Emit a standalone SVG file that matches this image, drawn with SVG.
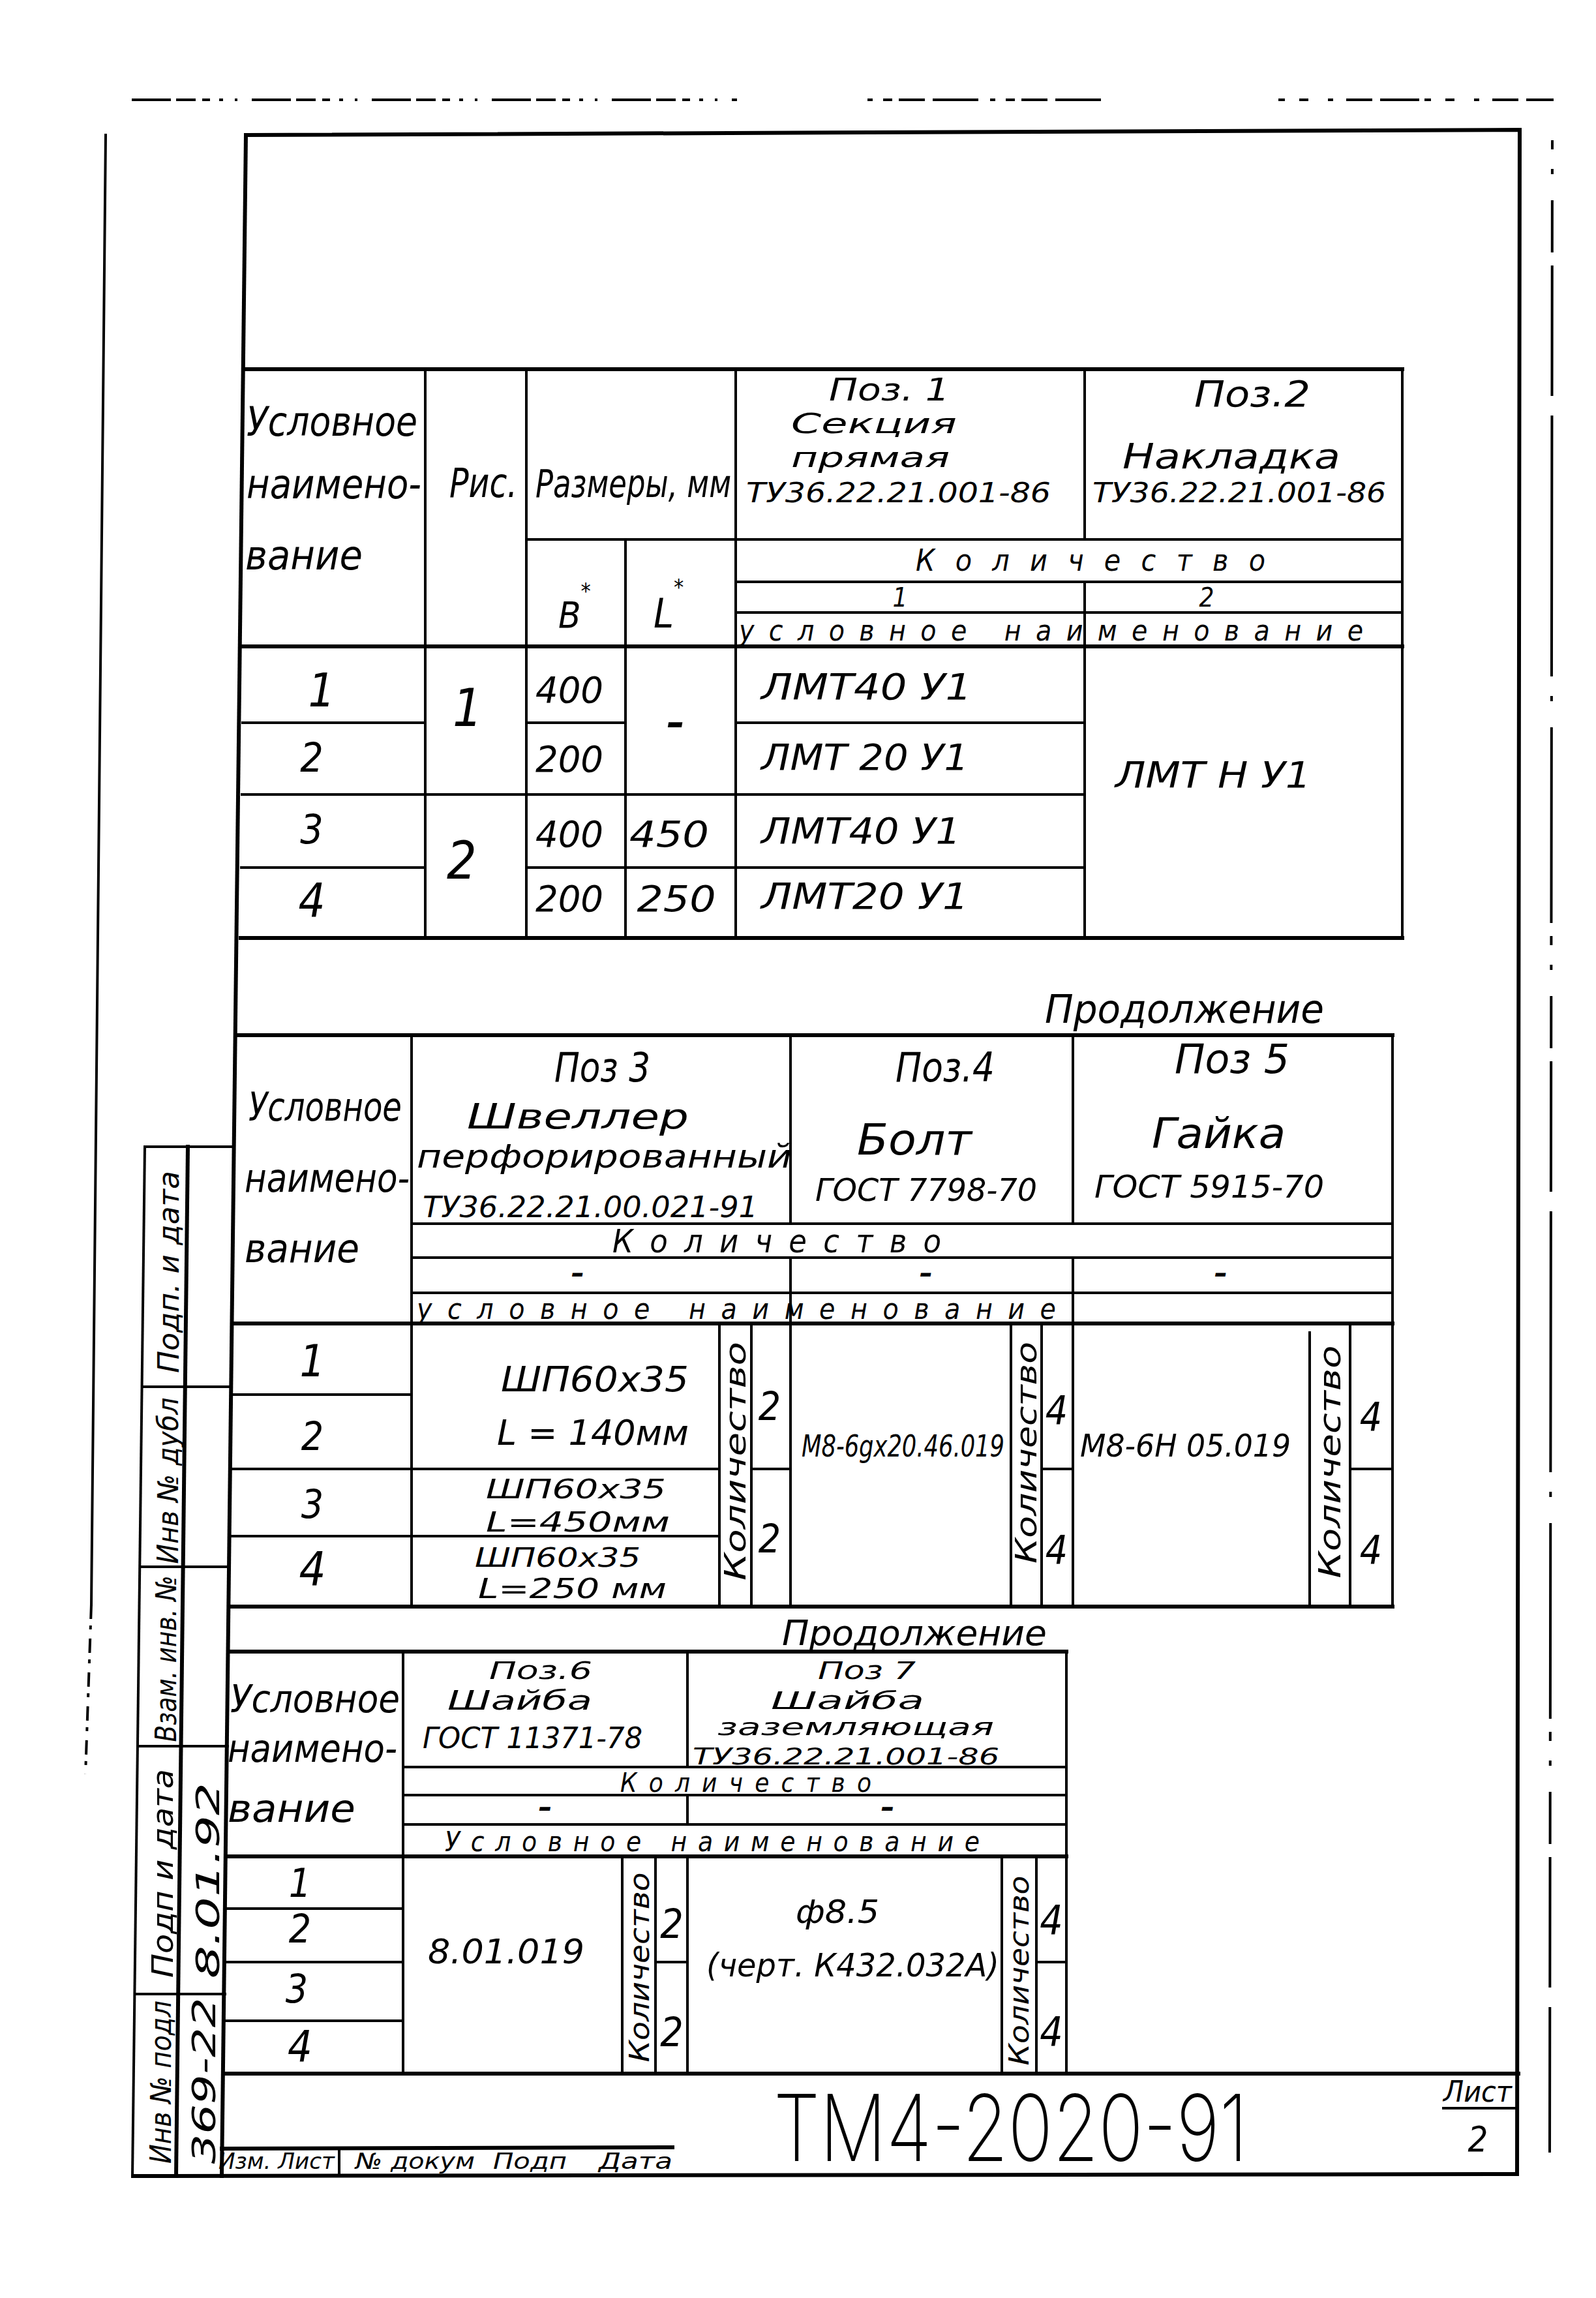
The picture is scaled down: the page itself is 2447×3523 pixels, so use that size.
<svg xmlns="http://www.w3.org/2000/svg" width="2447" height="3523" viewBox="0 0 2447 3523">
<style>
.ln{stroke:#000;stroke-width:4;fill:none;stroke-linecap:square}
.tk{stroke-width:6}
.ds{stroke:#000;stroke-width:4;fill:none}
.tx{font-family:"DejaVu Sans Condensed","DejaVu Sans",sans-serif;font-style:oblique;fill:#000}
.up{font-family:Inter,Lato,"DejaVu Sans",sans-serif;font-weight:200;fill:#000}
</style>
<rect width="2447" height="3523" fill="#fff"/>

<g id="frame">
<path class="ds" stroke-dasharray="60 8 30 10 12 14 6 18 4 22" d="M202,153 L1130,153"/>
<path class="ds" stroke-dasharray="8 16 14 10 40 12 70 18" d="M1330,153 L1700,153"/>
<path class="ds" stroke-dasharray="10 22 14 30 8 20 40 12 60 8" d="M1960,153 L2382,153"/>
<path class="ln" d="M162,207 L140,2460"/>
<path class="ds" stroke-dasharray="22 10 6 14" d="M140,2460 L131,2720"/>
<path class="ln tk" d="M377,207 L2330,199 L2326,3333 L206,3336"/>
<path class="ln tk" d="M377,207 L340,3336"/>
<path class="ds" stroke-width="5" stroke-dasharray="14 30 8 40 80 20 200 30 400 30 8 40 300 20" d="M2380,215 L2376,3300"/>
</g>

<g id="stamp">
<path class="ln" d="M222,1758 L203,3337"/>
<path class="ln tk" d="M288,1758 L270,3336"/>
<path class="ln" d="M222,1758 L359,1758"/>
<path class="ln" d="M218,2126 L355,2126"/>
<path class="ln" d="M215,2402 L352,2402"/>
<path class="ln" d="M212,2677 L349,2677"/>
<path class="ln" d="M208,3057 L345,3057"/>
<text class="tx" font-size="44" text-anchor="middle" textLength="310" lengthAdjust="spacingAndGlyphs" transform="translate(274,1950) rotate(-90)">Подп. и дата</text>
<text class="tx" font-size="44" text-anchor="middle" textLength="255" lengthAdjust="spacingAndGlyphs" transform="translate(273,2270) rotate(-90)">Инв № дубл</text>
<text class="tx" font-size="44" text-anchor="middle" textLength="255" lengthAdjust="spacingAndGlyphs" transform="translate(270,2543) rotate(-90)">Взам. инв. №</text>
<text class="tx" font-size="44" text-anchor="middle" textLength="320" lengthAdjust="spacingAndGlyphs" transform="translate(265,2872) rotate(-90)">Подп и дата</text>
<text class="tx" font-size="44" text-anchor="middle" textLength="250" lengthAdjust="spacingAndGlyphs" transform="translate(262,3192) rotate(-90)">Инв № подл</text>
<text class="tx" font-size="50" text-anchor="middle" textLength="300" lengthAdjust="spacingAndGlyphs" transform="translate(336,2883) rotate(-90)">8.01.92</text>
<text class="tx" font-size="50" text-anchor="middle" textLength="255" lengthAdjust="spacingAndGlyphs" transform="translate(330,3190) rotate(-90)">369-22</text>
</g>

<g id="table1">
<path class="ln tk" d="M373,566 L2150,566"/>
<path class="ln" d="M807,827 L2150,827"/>
<path class="ln" d="M1128,892 L2150,892"/>
<path class="ln" d="M1128,939 L2150,939"/>
<path class="ln tk" d="M372,991 L2150,991"/>
<path class="ln" d="M372,1108 L652,1108 M807,1108 L959,1108 M1128,1108 L1663,1108"/>
<path class="ln" d="M371,1218 L1663,1218"/>
<path class="ln" d="M370,1330 L652,1330 M807,1330 L1663,1330"/>
<path class="ln tk" d="M369,1438 L2150,1438"/>
<path class="ln" d="M652,566 L652,1438 M807,566 L807,1438 M959,827 L959,1438 M1128,566 L1128,1438 M1663,566 L1663,827 M1663,892 L1663,1438 M2150,566 L2150,1438"/>
<text class="tx" font-size="62" x="378" y="668" textLength="262" lengthAdjust="spacingAndGlyphs">Условное</text>
<text class="tx" font-size="62" x="378" y="764" textLength="268" lengthAdjust="spacingAndGlyphs">наимено-</text>
<text class="tx" font-size="62" x="376" y="873" textLength="180" lengthAdjust="spacingAndGlyphs">вание</text>
<text class="tx" font-size="62" x="689" y="762" textLength="104" lengthAdjust="spacingAndGlyphs">Рис.</text>
<text class="tx" font-size="58" x="821" y="762" textLength="300" lengthAdjust="spacingAndGlyphs">Размеры, мм</text>
<text class="tx" font-size="48" x="1271" y="614" textLength="185" lengthAdjust="spacingAndGlyphs">Поз. 1</text>
<text class="tx" font-size="42" x="1213" y="664" textLength="254" lengthAdjust="spacingAndGlyphs">Секция</text>
<text class="tx" font-size="42" x="1213" y="716" textLength="243" lengthAdjust="spacingAndGlyphs">прямая</text>
<text class="tx" font-size="42" x="1144" y="770" textLength="467" lengthAdjust="spacingAndGlyphs">ТУ36.22.21.001-86</text>
<text class="tx" font-size="56" x="1831" y="623" textLength="178" lengthAdjust="spacingAndGlyphs">Поз.2</text>
<text class="tx" font-size="54" x="1721" y="718" textLength="334" lengthAdjust="spacingAndGlyphs">Накладка</text>
<text class="tx" font-size="42" x="1675" y="770" textLength="450" lengthAdjust="spacingAndGlyphs">ТУ36.22.21.001-86</text>
<text class="tx" font-size="46" x="1404" y="875" textLength="536" lengthAdjust="spacing">Количество</text>
<text class="tx" font-size="40" x="1380" y="930" text-anchor="middle">1</text>
<text class="tx" font-size="40" x="1850" y="930" text-anchor="middle">2</text>
<text class="tx" font-size="56" x="856" y="962">В<tspan font-size="34" dy="-44">*</tspan></text>
<text class="tx" font-size="62" x="1002" y="962">L<tspan font-size="34" dy="-50">*</tspan></text>
<text class="tx" font-size="44" x="1133" y="982" textLength="957" lengthAdjust="spacing">условное наименование</text>
<text class="tx" font-size="72" x="493" y="1083" text-anchor="middle">1</text>
<text class="tx" font-size="62" x="478" y="1183" text-anchor="middle">2</text>
<text class="tx" font-size="62" x="478" y="1293" text-anchor="middle">3</text>
<text class="tx" font-size="72" x="478" y="1405" text-anchor="middle">4</text>
<text class="tx" font-size="80" x="717" y="1113" text-anchor="middle">1</text>
<text class="tx" font-size="80" x="708" y="1347" text-anchor="middle">2</text>
<text class="tx" font-size="56" x="873" y="1077" text-anchor="middle" textLength="104" lengthAdjust="spacingAndGlyphs">400</text>
<text class="tx" font-size="56" x="873" y="1183" text-anchor="middle" textLength="104" lengthAdjust="spacingAndGlyphs">200</text>
<text class="tx" font-size="56" x="873" y="1298" text-anchor="middle" textLength="104" lengthAdjust="spacingAndGlyphs">400</text>
<text class="tx" font-size="56" x="873" y="1397" text-anchor="middle" textLength="104" lengthAdjust="spacingAndGlyphs">200</text>
<text class="tx" font-size="60" x="1036" y="1128" text-anchor="middle" font-weight="bold">–</text>
<text class="tx" font-size="56" x="1026" y="1298" text-anchor="middle" textLength="122" lengthAdjust="spacingAndGlyphs">450</text>
<text class="tx" font-size="56" x="1037" y="1397" text-anchor="middle" textLength="121" lengthAdjust="spacingAndGlyphs">250</text>
<text class="tx" font-size="56" x="1167" y="1072" textLength="323" lengthAdjust="spacingAndGlyphs">ЛМТ40 У1</text>
<text class="tx" font-size="56" x="1167" y="1180" textLength="318" lengthAdjust="spacingAndGlyphs">ЛМТ 20 У1</text>
<text class="tx" font-size="56" x="1167" y="1293" textLength="306" lengthAdjust="spacingAndGlyphs">ЛМТ40 У1</text>
<text class="tx" font-size="56" x="1167" y="1393" textLength="318" lengthAdjust="spacingAndGlyphs">ЛМТ20 У1</text>
<text class="tx" font-size="56" x="1710" y="1207" textLength="300" lengthAdjust="spacingAndGlyphs">ЛМТ Н У1</text>
</g>

<g id="table2">
<text class="tx" font-size="60" x="1602" y="1568" textLength="428" lengthAdjust="spacingAndGlyphs">Продолжение</text>
<path class="ln tk" d="M362,1587 L2135,1587"/>
<path class="ln" d="M631,1876 L2135,1876 M631,1928 L2135,1928 M631,1982 L2135,1982"/>
<path class="ln tk" d="M358,2029 L2135,2029"/>
<path class="ln" d="M357,2138 L631,2138"/>
<path class="ln" d="M356,2252 L1103,2252 M1152,2252 L1212,2252 M1597,2252 L1645,2252 M2070,2252 L2135,2252"/>
<path class="ln" d="M355,2355 L1103,2355"/>
<path class="ln tk" d="M354,2463 L2135,2463"/>
<path class="ln" d="M631,1587 L631,2463 M1212,1587 L1212,1876 M1212,1928 L1212,2463 M1645,1587 L1645,1876 M1645,1928 L1645,2463 M2135,1587 L2135,2463"/>
<path class="ln" d="M1103,2029 L1103,2463 M1152,2029 L1152,2463 M1550,2029 L1550,2463 M1597,2029 L1597,2463 M2008,2043 L2008,2463 M2070,2029 L2070,2463"/>
<text class="tx" font-size="60" x="381" y="1718" textLength="235" lengthAdjust="spacingAndGlyphs">Условное</text>
<text class="tx" font-size="60" x="375" y="1827" textLength="253" lengthAdjust="spacingAndGlyphs">наимено-</text>
<text class="tx" font-size="60" x="375" y="1935" textLength="176" lengthAdjust="spacingAndGlyphs">вание</text>
<text class="tx" font-size="62" x="850" y="1658" textLength="147" lengthAdjust="spacingAndGlyphs">Поз 3</text>
<text class="tx" font-size="54" x="716" y="1730" textLength="340" lengthAdjust="spacingAndGlyphs">Швеллер</text>
<text class="tx" font-size="50" x="639" y="1790" textLength="575" lengthAdjust="spacingAndGlyphs">перфорированный</text>
<text class="tx" font-size="44" x="648" y="1866" textLength="514" lengthAdjust="spacingAndGlyphs">ТУ36.22.21.00.021-91</text>
<text class="tx" font-size="62" x="1373" y="1658" textLength="152" lengthAdjust="spacingAndGlyphs">Поз.4</text>
<text class="tx" font-size="66" x="1314" y="1770" textLength="176" lengthAdjust="spacingAndGlyphs">Болт</text>
<text class="tx" font-size="48" x="1250" y="1841" textLength="340" lengthAdjust="spacingAndGlyphs">ГОСТ 7798-70</text>
<text class="tx" font-size="62" x="1801" y="1645" textLength="176" lengthAdjust="spacingAndGlyphs">Поз 5</text>
<text class="tx" font-size="64" x="1766" y="1760" textLength="205" lengthAdjust="spacingAndGlyphs">Гайка</text>
<text class="tx" font-size="48" x="1678" y="1836" textLength="352" lengthAdjust="spacingAndGlyphs">ГОСТ 5915-70</text>
<text class="tx" font-size="50" x="939" y="1920" textLength="504" lengthAdjust="spacing">Количество</text>
<text class="tx" font-size="44" x="886" y="1966" text-anchor="middle" font-weight="bold">–</text>
<text class="tx" font-size="44" x="1420" y="1966" text-anchor="middle" font-weight="bold">–</text>
<text class="tx" font-size="44" x="1872" y="1966" text-anchor="middle" font-weight="bold">–</text>
<text class="tx" font-size="44" x="639" y="2022" textLength="980" lengthAdjust="spacing">условное наименование</text>
<text class="tx" font-size="68" x="479" y="2110" text-anchor="middle">1</text>
<text class="tx" font-size="60" x="479" y="2223" text-anchor="middle">2</text>
<text class="tx" font-size="60" x="479" y="2327" text-anchor="middle">3</text>
<text class="tx" font-size="72" x="479" y="2430" text-anchor="middle">4</text>
<text class="tx" font-size="54" x="768" y="2133" textLength="288" lengthAdjust="spacingAndGlyphs">ШП60х35</text>
<text class="tx" font-size="54" x="762" y="2215" textLength="294" lengthAdjust="spacingAndGlyphs">L = 140мм</text>
<text class="tx" font-size="40" x="745" y="2297" textLength="276" lengthAdjust="spacingAndGlyphs">ШП60х35</text>
<text class="tx" font-size="42" x="745" y="2348" textLength="282" lengthAdjust="spacingAndGlyphs">L=450мм</text>
<text class="tx" font-size="40" x="728" y="2402" textLength="254" lengthAdjust="spacingAndGlyphs">ШП60х35</text>
<text class="tx" font-size="42" x="733" y="2450" textLength="289" lengthAdjust="spacingAndGlyphs">L=250 мм</text>
<text class="tx" font-size="44" text-anchor="middle" textLength="366" lengthAdjust="spacingAndGlyphs" transform="translate(1143,2240) rotate(-90)">Количество</text>
<text class="tx" font-size="60" x="1180" y="2177" text-anchor="middle">2</text>
<text class="tx" font-size="60" x="1180" y="2380" text-anchor="middle">2</text>
<text class="tx" font-size="46" x="1229" y="2233" textLength="311" lengthAdjust="spacingAndGlyphs">М8-6gх20.46.019</text>
<text class="tx" font-size="44" text-anchor="middle" textLength="340" lengthAdjust="spacingAndGlyphs" transform="translate(1589,2227) rotate(-90)">Количество</text>
<text class="tx" font-size="60" x="1620" y="2183" text-anchor="middle">4</text>
<text class="tx" font-size="60" x="1620" y="2397" text-anchor="middle">4</text>
<text class="tx" font-size="48" x="1656" y="2233" textLength="323" lengthAdjust="spacingAndGlyphs">М8-6Н 05.019</text>
<text class="tx" font-size="46" text-anchor="middle" textLength="357" lengthAdjust="spacingAndGlyphs" transform="translate(2055,2241) rotate(-90)">Количество</text>
<text class="tx" font-size="60" x="2102" y="2193" text-anchor="middle">4</text>
<text class="tx" font-size="60" x="2102" y="2397" text-anchor="middle">4</text>
</g>

<g id="table3">
<text class="tx" font-size="54" x="1199" y="2522" textLength="406" lengthAdjust="spacingAndGlyphs">Продолжение</text>
<path class="ln tk" d="M351,2532 L1635,2532"/>
<path class="ln" d="M618,2709 L1635,2709 M618,2752 L1635,2752 M618,2797 L1635,2797"/>
<path class="ln tk" d="M349,2846 L1635,2846"/>
<path class="ln" d="M348,2926 L618,2926"/>
<path class="ln" d="M347,3008 L618,3008 M1005,3008 L1054,3008 M1589,3008 L1635,3008"/>
<path class="ln" d="M346,3098 L618,3098"/>
<path class="ln tk" d="M345,3179 L2328,3179"/>
<path class="ln" d="M618,2532 L618,3179 M1054,2532 L1054,2709 M1054,2752 L1054,2797 M1054,2846 L1054,3179 M1635,2532 L1635,3179"/>
<path class="ln" d="M954,2846 L954,3179 M1005,2846 L1005,3179 M1536,2846 L1536,3179 M1589,2846 L1589,3179"/>
<text class="tx" font-size="58" x="353" y="2625" textLength="260" lengthAdjust="spacingAndGlyphs">Условное</text>
<text class="tx" font-size="58" x="349" y="2701" textLength="260" lengthAdjust="spacingAndGlyphs">наимено-</text>
<text class="tx" font-size="58" x="349" y="2793" textLength="196" lengthAdjust="spacingAndGlyphs">вание</text>
<text class="tx" font-size="38" x="750" y="2574" textLength="158" lengthAdjust="spacingAndGlyphs">Поз.6</text>
<text class="tx" font-size="40" x="686" y="2621" textLength="222" lengthAdjust="spacingAndGlyphs">Шайба</text>
<text class="tx" font-size="44" x="648" y="2680" textLength="337" lengthAdjust="spacingAndGlyphs">ГОСТ 11371-78</text>
<text class="tx" font-size="38" x="1254" y="2574" textLength="150" lengthAdjust="spacingAndGlyphs">Поз 7</text>
<text class="tx" font-size="38" x="1182" y="2620" textLength="235" lengthAdjust="spacingAndGlyphs">Шайба</text>
<text class="tx" font-size="36" x="1100" y="2660" textLength="424" lengthAdjust="spacingAndGlyphs">заземляющая</text>
<text class="tx" font-size="36" x="1062" y="2705" textLength="470" lengthAdjust="spacingAndGlyphs">ТУ36.22.21.001-86</text>
<text class="tx" font-size="40" x="951" y="2747" textLength="385" lengthAdjust="spacing">Количество</text>
<text class="tx" font-size="46" x="836" y="2786" text-anchor="middle" font-weight="bold">–</text>
<text class="tx" font-size="46" x="1361" y="2786" text-anchor="middle" font-weight="bold">–</text>
<text class="tx" font-size="42" x="682" y="2838" textLength="820" lengthAdjust="spacing">Условное наименование</text>
<text class="tx" font-size="60" x="460" y="2908" text-anchor="middle">1</text>
<text class="tx" font-size="60" x="460" y="2978" text-anchor="middle">2</text>
<text class="tx" font-size="60" x="455" y="3070" text-anchor="middle">3</text>
<text class="tx" font-size="66" x="460" y="3160" text-anchor="middle">4</text>
<text class="tx" font-size="52" x="656" y="3010" textLength="240" lengthAdjust="spacingAndGlyphs">8.01.019</text>
<text class="tx" font-size="42" text-anchor="middle" textLength="291" lengthAdjust="spacingAndGlyphs" transform="translate(995,3016) rotate(-90)">Количество</text>
<text class="tx" font-size="62" x="1030" y="2971" text-anchor="middle">2</text>
<text class="tx" font-size="62" x="1030" y="3137" text-anchor="middle">2</text>
<text class="tx" font-size="50" x="1220" y="2948" textLength="128" lengthAdjust="spacingAndGlyphs">ф8.5</text>
<text class="tx" font-size="50" x="1083" y="3030" textLength="449" lengthAdjust="spacingAndGlyphs">(черт. К432.032А)</text>
<text class="tx" font-size="42" text-anchor="middle" textLength="291" lengthAdjust="spacingAndGlyphs" transform="translate(1577,3021) rotate(-90)">Количество</text>
<text class="tx" font-size="62" x="1612" y="2966" text-anchor="middle">4</text>
<text class="tx" font-size="62" x="1612" y="3137" text-anchor="middle">4</text>
</g>

<g id="titleblock">
<path class="ln tk" d="M340,3294 L1031,3292"/>
<path class="ln" d="M520,3294 L520,3334"/>
<text class="tx" font-size="34" x="335" y="3325" textLength="178" lengthAdjust="spacingAndGlyphs">Изм. Лист</text>
<text class="tx" font-size="34" x="545" y="3325" textLength="183" lengthAdjust="spacingAndGlyphs">№ докум</text>
<text class="tx" font-size="34" x="756" y="3325" textLength="113" lengthAdjust="spacingAndGlyphs">Подп</text>
<text class="tx" font-size="34" x="918" y="3325" textLength="113" lengthAdjust="spacingAndGlyphs">Дата</text>
<text class="up" font-size="141" x="1186" y="3313" textLength="727" lengthAdjust="spacingAndGlyphs">ТМ4-2020-91</text>
<text class="tx" font-size="44" x="2213" y="3222" textLength="105" lengthAdjust="spacingAndGlyphs">Лист</text>
<path class="ln" d="M2213,3232 L2327,3232"/>
<text class="tx" font-size="54" x="2266" y="3298" text-anchor="middle">2</text>
</g>
</svg>
